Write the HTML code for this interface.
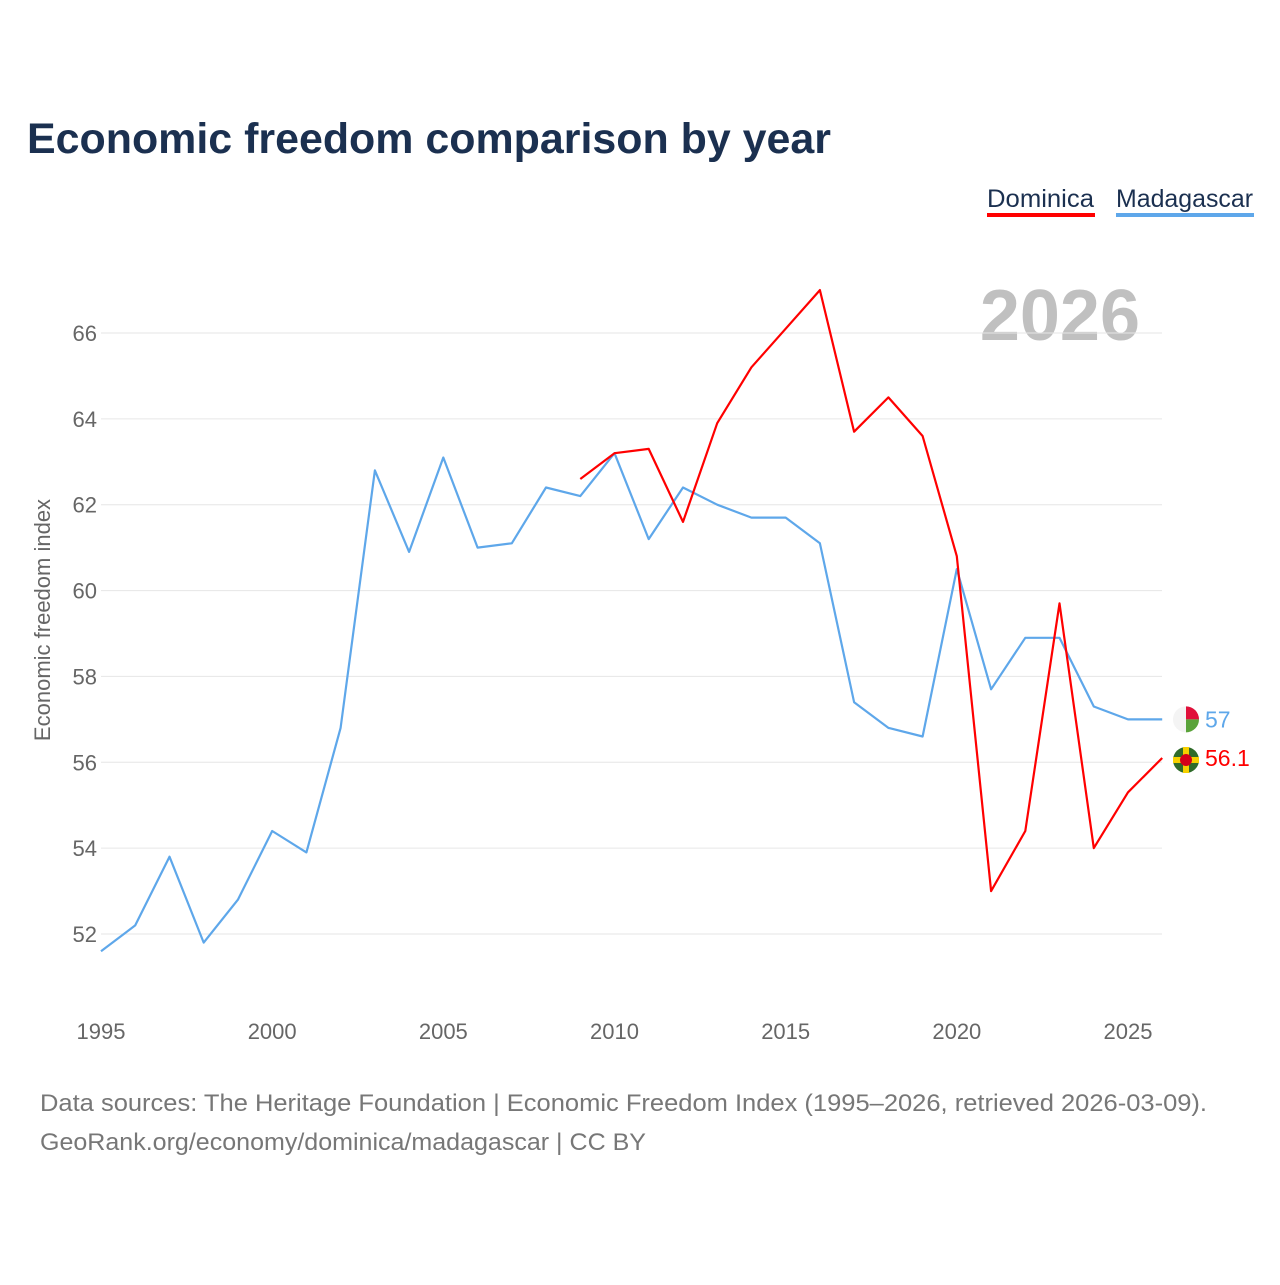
<!DOCTYPE html>
<html><head><meta charset="utf-8"><style>
body{margin:0;background:#fff;font-family:"Liberation Sans",sans-serif}
svg text{font-family:"Liberation Sans",sans-serif}
</style></head><body>
<svg width="1280" height="1280" xmlns="http://www.w3.org/2000/svg">
<text x="27" y="153" font-size="43" font-weight="bold" fill="#1b3050" textLength="804" lengthAdjust="spacingAndGlyphs">Economic freedom comparison by year</text>
<g><text x="987" y="207" font-size="25" fill="#1b3050" textLength="107" lengthAdjust="spacingAndGlyphs">Dominica</text><rect x="987" y="213" width="108" height="4" fill="#ff0000"/></g>
<g><text x="1116" y="207" font-size="25" fill="#1b3050" textLength="137" lengthAdjust="spacingAndGlyphs">Madagascar</text><rect x="1116" y="213" width="138" height="4" fill="#5ea7ea"/></g>
<text x="1140" y="340" font-size="72" font-weight="bold" fill="#c0c0c0" text-anchor="end">2026</text>
<text transform="translate(50,620) rotate(-90)" font-size="22" fill="#666" text-anchor="middle">Economic freedom index</text>
<g id="grid"></g><g id="xt"></g><g id="series"></g>
<text x="40" y="1111" font-size="24" fill="#777" textLength="1167" lengthAdjust="spacingAndGlyphs">Data sources: The Heritage Foundation | Economic Freedom Index (1995–2026, retrieved 2026-03-09).</text>
<text x="40" y="1150" font-size="24" fill="#777" textLength="606" lengthAdjust="spacingAndGlyphs">GeoRank.org/economy/dominica/madagascar | CC BY</text>
</svg>
<script>
const years=[];for(let y=1995;y<=2026;y++)years.push(y);
const madagascar=[51.6,52.2,53.8,51.8,52.8,54.4,53.9,56.8,62.8,60.9,63.1,61.0,61.1,62.4,62.2,63.2,61.2,62.4,62.0,61.7,61.7,61.1,57.4,56.8,56.6,60.5,57.7,58.9,58.9,57.3,57.0,57.0];
const dominica=[null,null,null,null,null,null,null,null,null,null,null,null,null,null,62.6,63.2,63.3,61.6,63.9,65.2,66.1,67.0,63.7,64.5,63.6,60.8,53.0,54.4,59.7,54.0,55.3,56.1];
const yTicks=[52,54,56,58,60,62,64,66];
const xTicks=[1995,2000,2005,2010,2015,2020,2025];
const X=y=>101+(y-1995)*(1128-101)/30;
const Y=v=>934-(v-52)*(934-333)/14;
const NS="http://www.w3.org/2000/svg";
function mk(t,a,p){const e=document.createElementNS(NS,t);for(const k in a)e.setAttribute(k,a[k]);p.appendChild(e);return e;}
const g=document.getElementById('grid');
yTicks.forEach(v=>{
 const l=mk('line',{x1:101,x2:1162,y1:Y(v),y2:Y(v),stroke:'#e6e6e6','stroke-width':1},g);
 
 
 const t=mk('text',{x:97,y:Y(v)+8,'font-size':22,fill:'#666','text-anchor':'end'},g);t.textContent=v;
 
 
});
const xt=document.getElementById('xt');
xTicks.forEach(v=>{
 const t=mk('text',{x:X(v),y:1039,'font-size':22,fill:'#666','text-anchor':'middle'},xt);t.textContent=v;
 
 
});
const s=document.getElementById('series');
function line(vals,col,name){
 let d='';let pen=false;
 vals.forEach((v,i)=>{if(v==null){pen=false;return;}d+=(pen?'L':'M')+X(years[i]).toFixed(1)+','+Y(v).toFixed(1);pen=true;});
 const p=mk('path',{d:d,fill:'none',stroke:col,'stroke-width':2.2,'stroke-linejoin':'round'},s);
 
 
}
line(madagascar,'#5ea7ea','madagascar');
line(dominica,'#ff0000','dominica');
const mv=madagascar[madagascar.length-1], dv=dominica[dominica.length-1];
const fm=mk('g',{},s);


mk('circle',{cx:1186,cy:Y(mv),r:13,fill:'#f4f4f4'},fm);
mk('path',{d:`M1186,${Y(mv)-13} A13,13 0 0 1 1199,${Y(mv)} L1186,${Y(mv)} Z`,fill:'#e0103a'},fm);
mk('path',{d:`M1186,${Y(mv)} L1199,${Y(mv)} A13,13 0 0 1 1186,${Y(mv)+13} Z`,fill:'#5aa33a'},fm);
const tm=mk('text',{x:1205,y:Y(mv)+8,'font-size':23,fill:'#5ea7ea'},s);tm.textContent=mv;


const fd=mk('g',{},s);


const dy=Y(dv);
mk('circle',{cx:1186,cy:dy+2,r:13,fill:'#2f6b2a'},fd);
mk('rect',{x:1173,y:dy-1,width:26,height:6,fill:'#f5d000'},fd);
mk('rect',{x:1183,y:dy-11,width:6,height:26,fill:'#f5d000'},fd);
mk('circle',{cx:1186,cy:dy+2,r:6,fill:'#d4001a'},fd);
const td=mk('text',{x:1205,y:dy+8,'font-size':23,fill:'#ff0000'},s);td.textContent=dv;


</script>
</body></html>
